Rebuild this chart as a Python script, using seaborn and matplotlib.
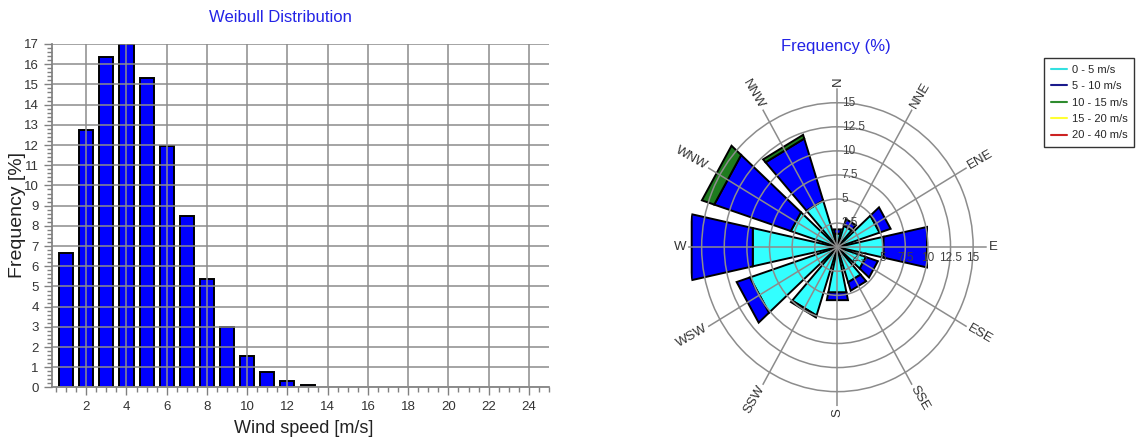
import numpy as np
import pandas as pd
import seaborn as sns
import matplotlib.pyplot as plt
from matplotlib.lines import Line2D
from matplotlib.ticker import MultipleLocator

# Weibull distribution histogram
speed = [1, 2, 3, 4, 5, 6, 7, 8, 9, 10, 11, 12, 13]
freq = [6.65, 12.75, 16.35, 17.0, 15.3, 11.95, 8.5, 5.35, 3.0, 1.55, 0.75, 0.3, 0.1]

# wind rose, frequency (%) per sector and speed bin
sectors = ['N', 'NNE', 'ENE', 'E', 'ESE', 'SSE', 'S', 'SSW', 'WSW', 'W', 'WNW', 'NNW']
sector_deg = [0, 30, 60, 90, 120, 150, 180, 210, 240, 270, 300, 330]
f_0_5 = [1.4, 2.3, 4.8, 5.1, 3.25, 3.75, 4.7, 7.3, 9.95, 9.35, 5.3, 5.0]
f_5_10 = [0.45, 0.7, 1.25, 4.8, 1.35, 0.9, 0.8, 0.2, 1.5, 6.75, 8.7, 6.6]
f_10_15 = [0, 0, 0, 0, 0, 0, 0, 0, 0, 0, 1.4, 0.4]
f_15_20 = [0, 0, 0, 0, 0, 0, 0, 0, 0, 0, 0, 0]
f_20_40 = [0, 0, 0, 0, 0, 0, 0, 0, 0, 0, 0, 0]
bins = ['0 - 5 m/s', '5 - 10 m/s', '10 - 15 m/s', '15 - 20 m/s', '20 - 40 m/s']
ring_vals = [2.5, 5, 7.5, 10, 12.5, 15]

bar_colors = ['#33ffff', '#0000ff', '#1e7b1e', '#ffff00', '#dd0000']
legend_colors = ['#33e0e0', '#1a1a8c', '#2e8b2e', '#ffff33', '#cc2222']

sns.set_theme(style='white')
plt.rcParams['font.family'] = ['Liberation Sans', 'DejaVu Sans']

fig = plt.figure(figsize=(11.36, 4.43), dpi=100)

# ---- left: histogram
ax = fig.add_axes([0.0458, 0.1253, 0.4375, 0.7754])
sns.barplot(x=speed, y=freq, native_scale=True, width=0.7, color='#0000ff',
            saturation=1, edgecolor='black', linewidth=1.4, errorbar=None, ax=ax)
ax.set_xlim(0.3, 25)
ax.set_ylim(0, 17)
ax.set_xticks(range(2, 25, 2))
ax.xaxis.set_minor_locator(MultipleLocator(0.5))
ax.set_yticks(range(0, 18))
ax.yaxis.set_minor_locator(MultipleLocator(0.2))
ax.tick_params(which='major', length=6, width=1, color='#808080', labelsize=9.5,
               labelcolor='#333333', direction='out', bottom=True, left=True)
ax.tick_params(which='minor', length=3.5, width=1, color='#808080', direction='out',
               bottom=True, left=True)
ax.grid(True, which='major', color='#8c8c8c', lw=1.1)
ax.set_axisbelow(False)
for s in ['top', 'right']:
    ax.spines[s].set_visible(False)
for s in ['left', 'bottom']:
    ax.spines[s].set_color('#808080')
ax.set_xlabel('Wind speed [m/s]', fontsize=13, color='#222222', va='center')
ax.xaxis.set_label_coords(0.507, -0.118)
ax.set_ylabel('Frequency [%]', fontsize=14, color='#222222', va='center')
ax.yaxis.set_label_coords(-0.0704, 0.502)
fig.text(280 / 1136, 1 - 17 / 443, 'Weibull Distribution', color='#2323e6',
         fontsize=12, ha='center', va='center')

# ---- right: wind rose
axp = fig.add_axes([0.6057, 0.0833, 0.2629, 0.7174], projection='polar')
axp.set_aspect('auto')
axp.set_theta_zero_location('N')
axp.set_theta_direction(-1)
axp.set_ylim(0, 16.5)
axp.set_rgrids(ring_vals, labels=[])
axp.set_thetagrids(sector_deg, labels=[])
axp.grid(True, color='#8c8c8c', lw=1.1)
axp.spines['polar'].set_visible(False)
axp.set_axisbelow(False)

series = [f_0_5, f_5_10, f_10_15, f_15_20, f_20_40]
half = np.deg2rad(12)
k = 1 / np.cos(half)
for i, d in enumerate(sector_deg):
    c = np.deg2rad(d)
    base = 0
    for vals, col in zip(series, bar_colors):
        v = vals[i]
        if v <= 0:
            continue
        top = base + v
        axp.fill([c - half, c + half, c + half, c - half],
                 [base * k, base * k, top * k, top * k],
                 facecolor=col, edgecolor='black', lw=1.4, zorder=1)
        base = top

for lab, d in zip(sectors, sector_deg):
    rot = (90 - d) % 180
    if rot > 90:
        rot -= 180
    ha = 'left' if d < 180 else 'right'
    axp.text(np.deg2rad(d), 16.7, lab, rotation=rot, rotation_mode='anchor',
             ha=ha, va='center', fontsize=9.5, color='#333333')

for r in ring_vals:
    lab = f'{r:g}'
    axp.annotate(lab, (0, r), xytext=(3, 0), textcoords='offset points',
                 ha='left', va='center', fontsize=8.5, color='#404040')
    axp.annotate(lab, (np.pi / 2, r), xytext=(0, -8), textcoords='offset points',
                 ha='center', va='center', fontsize=8.5, color='#404040')

fig.text(836 / 1136, 1 - 47 / 443, 'Frequency (%)', color='#2323e6',
         fontsize=12, ha='center', va='center')

handles = [Line2D([], [], color=c, lw=1.5) for c in legend_colors]
leg = fig.legend(handles, bins, loc='upper left', bbox_to_anchor=(1044 / 1136, 1 - 58 / 443),
                 frameon=True, fancybox=False, edgecolor='black', fontsize=8,
                 handlelength=1.5, handletextpad=0.4, labelspacing=0.58,
                 borderpad=0.6, borderaxespad=0)
leg.get_frame().set_linewidth(1.0)

fig.savefig('out.png', dpi=100)
